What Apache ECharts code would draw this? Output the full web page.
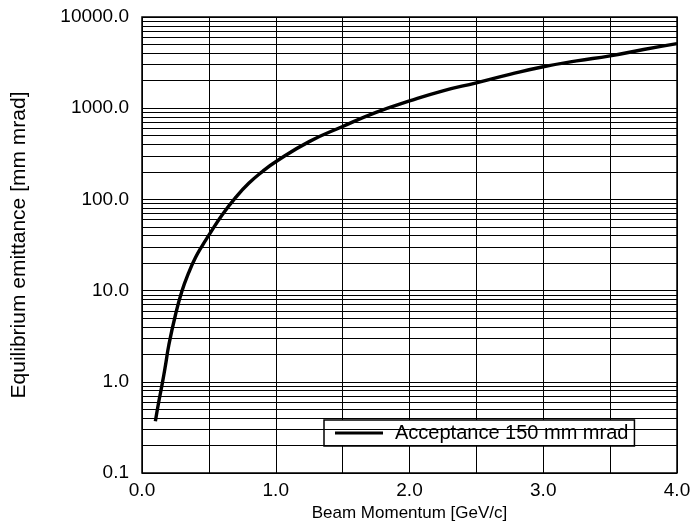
<!DOCTYPE html>
<html><head><meta charset="utf-8">
<script src="https://cdn.jsdelivr.net/npm/echarts@6/dist/echarts.min.js"></script>
<style>html,body{margin:0;padding:0;background:#fff}#c{width:691px;height:525px}</style>
</head><body><div id="c"></div>
<script>
const momentum = [0.1, 0.125, 0.15, 0.175, 0.2, 0.25, 0.3, 0.35, 0.4, 0.45, 0.5, 0.6, 0.7, 0.8, 0.9, 1.0, 1.25, 1.5, 1.75, 2.0, 2.25, 2.5, 2.75, 3.0, 3.25, 3.5, 3.75, 4.0];
const emittance = [0.37, 0.6, 0.93, 1.5, 2.5, 5.4, 10, 15.8, 23, 31, 40.5, 68, 105, 151, 202, 259, 430, 630, 900, 1200, 1550, 1900, 2350, 2850, 3300, 3750, 4400, 5100];
const minorGridValues = [0.2,0.3,0.4,0.5,0.6,0.7,0.8,0.9, 2,3,4,5,6,7,8,9, 20,30,40,50,60,70,80,90, 200,300,400,500,600,700,800,900, 2000,3000,4000,5000,6000,7000,8000,9000];
const seriesName = 'Acceptance 150 mm mrad';
const xName = 'Beam Momentum [GeV/c]';
const yName = 'Equilibrium emittance [mm mrad]';

const font = '"Liberation Sans", Arial, sans-serif';
const chart = echarts.init(document.getElementById('c'), null, {renderer: 'canvas'});
chart.setOption({
  animation: false,
  backgroundColor: '#fff',
  textStyle: {fontFamily: font, color: '#000'},
  grid: {left: 142, right: 14, top: 17, bottom: 52, show: true, borderColor: '#000', borderWidth: 1.5,
    backgroundColor: 'transparent', containLabel: false, outerBoundsMode: 'none'},
  legend: {
    left: 324, top: 420,
    backgroundColor: '#fff', borderColor: '#000', borderWidth: 1.5, borderRadius: 0,
    padding: [3, 6, 3, 11],
    itemWidth: 48, itemHeight: 3, itemGap: 10,
    icon: 'rect',
    textStyle: {fontSize: 20, color: '#000', fontFamily: font, padding: [0, 0, 0, 7]},
    data: [{name: seriesName, itemStyle: {color: '#000'}}]
  },
  xAxis: {
    type: 'value', min: 0, max: 4, interval: 0.5,
    name: xName, nameLocation: 'middle', nameGap: 32,
    nameTextStyle: {fontSize: 17, color: '#000', fontFamily: font},
    axisLine: {show: false}, axisTick: {show: false},
    axisLabel: {fontSize: 19, color: '#000', margin: 8, fontFamily: font,
      formatter: v => (Math.abs(v - Math.round(v)) < 1e-9 ? v.toFixed(1) : '')},
    splitLine: {show: true, lineStyle: {color: '#000', width: 1}}
  },
  yAxis: {
    type: 'log', logBase: 10, min: 0.1, max: 10000,
    name: yName, nameLocation: 'middle', nameGap: 112, nameRotate: 90,
    nameTextStyle: {fontSize: 21, color: '#000', fontFamily: font},
    axisLine: {show: false}, axisTick: {show: false},
    axisLabel: {fontSize: 19, color: '#000', margin: 13, fontFamily: font,
      formatter: v => Number(v).toFixed(1)},
    splitLine: {show: true, lineStyle: {color: '#000', width: 1}}
  },
  series: [{
    name: seriesName, type: 'line', symbol: 'none', smooth: true,
    data: momentum.map((x, i) => [x, emittance[i]]),
    lineStyle: {color: '#000', width: 3.4},
    itemStyle: {color: '#000'},
    z: 5,
    markLine: {
      silent: true, symbol: 'none', animation: false,
      label: {show: false},
      lineStyle: {color: '#000', width: 1, type: 'solid'},
      emphasis: {disabled: true},
      data: minorGridValues.map(v => ({yAxis: v}))
    }
  }]
});
</script></body></html>
